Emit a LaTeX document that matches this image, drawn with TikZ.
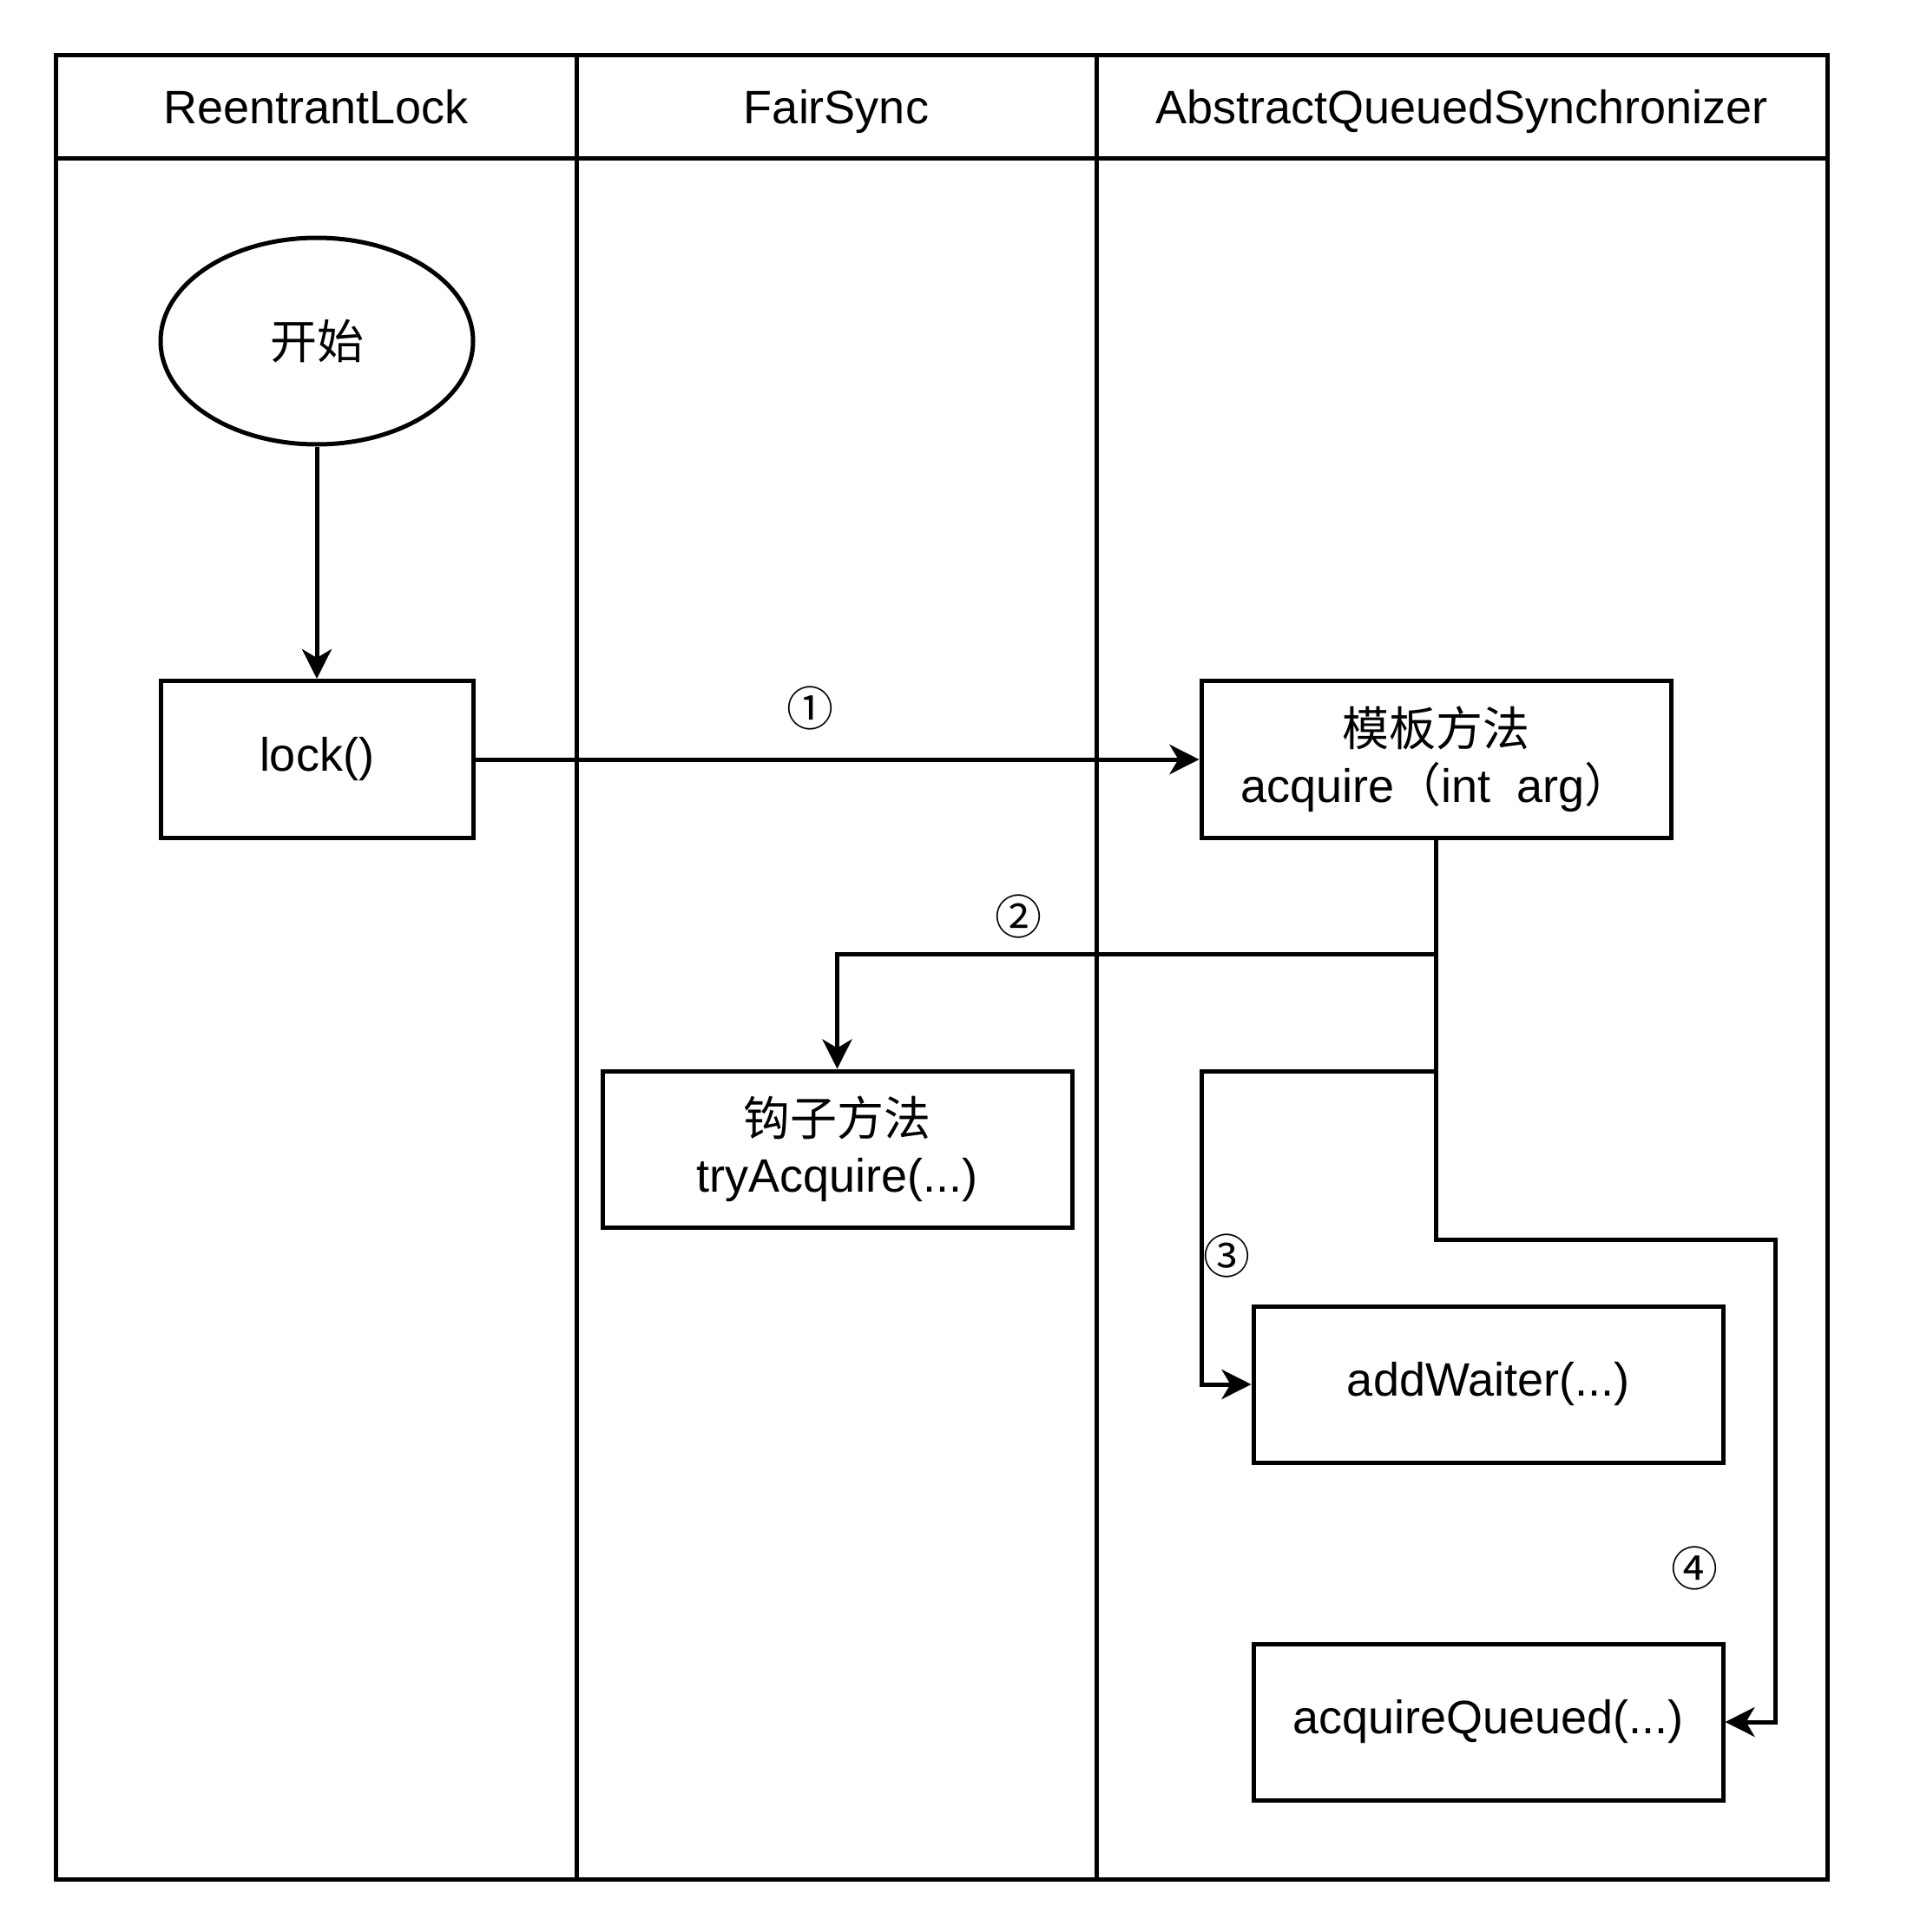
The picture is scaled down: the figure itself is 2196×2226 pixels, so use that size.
\documentclass[tikz,border=0pt]{standalone}
\usepackage{fontspec}
\setmainfont{Liberation Sans}
\newfontfamily\cjk{Noto Sans CJK SC}
\usetikzlibrary{shapes.geometric,arrows.meta}
\begin{document}
\begin{tikzpicture}[x=1pt,y=-1pt,
  thick line/.style={line width=5pt},
  lane/.style={draw,thick line,rectangle,inner sep=0pt,font=\fontsize{54}{65}\selectfont},
  headtext/.style={text height=38.7pt,text depth=0pt},
  box/.style={draw,thick line,rectangle,minimum width=541pt,minimum height=181pt,inner sep=0pt,align=center,font=\fontsize{54}{65}\selectfont},
  num/.style={inner sep=0pt,font=\cjk\fontsize{54}{65}\selectfont},
  arr/.style={thick line,line join=miter,-{Stealth[length=34pt,width=34pt,inset=10pt]}}]
\useasboundingbox (0,0) rectangle (2196,2226);
% lanes
\node[lane,minimum width=600pt,minimum height=1982pt] (b1) at (364,1174) {};
\node[lane,minimum width=599pt,minimum height=1982pt] (b2) at (963.5,1174) {};
\node[lane,minimum width=842pt,minimum height=1982pt] (b3) at (1684,1174) {};
\node[lane,minimum width=600pt,minimum height=119pt] (h1) at (364,123.5) {};
\node[lane,minimum width=599pt,minimum height=119pt] (h2) at (963.5,123.5) {};
\node[lane,minimum width=842pt,minimum height=119pt] (h3) at (1684,123.5) {};
\node[headtext,inner sep=0pt,font=\fontsize{54}{65}\selectfont] (t1) at (h1) {ReentrantLock};
\node[headtext,inner sep=0pt,font=\fontsize{54}{65}\selectfont] (t2) at (h2) {FairSync};
\node[headtext,inner sep=0pt,font=\fontsize{54}{65}\selectfont] (t3) at (h3) {AbstractQueuedSynchronizer};
% nodes
\node[draw,thick line,ellipse,minimum width=360pt,minimum height=238pt,inner sep=0pt,font=\cjk\fontsize{54}{65}\selectfont] (start) at (365,393) {开始};
\node[box,minimum width=360pt] (lock) at (365,875) {lock()};
\node[box] (tmpl) at (1654.5,875) {{\cjk 模板方法}\\acquire{\cjk （}int\ \ arg{\cjk ）}};
\node[box,minimum height=180pt] (hook) at (964.5,1324) {{\cjk 钩子方法}\\tryAcquire(...)};
\node[box,minimum height=180pt] (aw) at (1714.5,1595) {addWaiter(...)};
\node[box,minimum height=180pt] (aq) at (1714.5,1984) {acquireQueued(...)};
% labels
\node[num] (n1) at (933,816) {①};
\node[num] (n2) at (1173,1056) {②};
\node[num] (n3) at (1413,1447) {③};
\node[num] (n4) at (1952,1807) {④};
% bend points
\coordinate (j2) at (1654.5,1099);
\coordinate (j3) at (1654.5,1234);
\coordinate (k3) at (1384,1234);
\coordinate (j4) at (1654.5,1428);
\coordinate (k4) at (2045,1428);
% connectors
\draw[arr] (start) -- (lock);
\draw[arr] (lock.east) -- (tmpl.west);
\draw[arr] (tmpl.south) -- (j2) -| (hook.north);
\draw[arr] (tmpl.south) -- (j3) -- (k3) |- (aw.west);
\draw[arr] (tmpl.south) -- (j4) -- (k4) |- (aq.east);
\end{tikzpicture}
\end{document}
